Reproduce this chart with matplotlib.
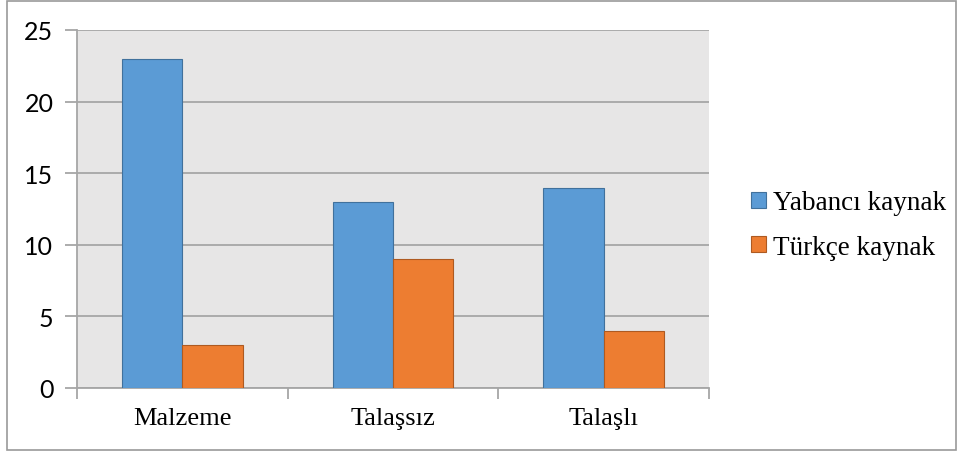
import matplotlib
matplotlib.use("Agg")
import matplotlib.pyplot as plt
from matplotlib.patches import Rectangle
from matplotlib.font_manager import FontProperties
import numpy as np

categories = ["Malzeme", "Talaşsız", "Talaşlı"]
yabanci = [23, 13, 14]
turkce = [3, 9, 4]
series_names = ["Yabancı kaynak", "Türkçe kaynak"]
y_ticks = [0, 5, 10, 15, 20, 25]

plt.rcParams["font.family"] = ["Liberation Serif", "DejaVu Serif"]

fig = plt.figure(figsize=(9.58, 4.52), dpi=100)
ax = fig.add_axes([77 / 958, 1 - 389 / 452, (709 - 77) / 958, (389 - 31) / 452])
ax.set_facecolor("#E7E6E6")

x = np.arange(len(categories))
w = 0.287
b1 = ax.bar(x - w / 2, yabanci, w, color="#5B9BD5", edgecolor="#41719C",
            linewidth=0.8, label=series_names[0], zorder=3)
b2 = ax.bar(x + w / 2, turkce, w, color="#ED7D31", edgecolor="#AE5A21",
            linewidth=0.8, label=series_names[1], zorder=3)

ax.set_xlim(-0.5, len(categories) - 0.5)
ax.set_ylim(0, 25)
ax.set_yticks(y_ticks)
ax.yaxis.grid(True, color="#A6A6A6", linewidth=1.3, zorder=1)
ax.set_axisbelow(True)

for s in ["top", "right"]:
    ax.spines[s].set_visible(False)
ax.spines["left"].set_color("#A6A6A6")
ax.spines["left"].set_linewidth(1.3)
ax.spines["bottom"].set_color("#A6A6A6")
ax.spines["bottom"].set_linewidth(1.3)

serif = FontProperties(family="Liberation Serif", size=19)
ax.set_xticks(x)
ax.set_xticklabels(categories, fontproperties=serif)
ax.tick_params(axis="x", which="major", length=0, pad=14)
ax.set_xticks(np.arange(-0.5, len(categories), 1.0), minor=True)
ax.tick_params(axis="x", which="minor", length=8, width=1.3, color="#A6A6A6")
ax.tick_params(axis="y", length=9, width=1.3, color="#A6A6A6", pad=8)
sans = FontProperties(family="Lato", size=18)
for lab in ax.get_yticklabels():
    lab.set_fontproperties(sans)

leg = ax.legend(handles=[b1, b2], loc="center left",
                bbox_to_anchor=(1.05, 0.455), frameon=False,
                prop=FontProperties(family="Liberation Serif", size=19.5),
                handlelength=0.55, handleheight=0.55, handletextpad=0.25,
                labelspacing=0.72, borderaxespad=0)

fig.patches.append(Rectangle((7 / 958, 1 / 452), 949 / 958, 449 / 452,
                             transform=fig.transFigure, fill=False,
                             edgecolor="#9A9A9A", linewidth=1.2))

fig.savefig("out.png", dpi=100)
